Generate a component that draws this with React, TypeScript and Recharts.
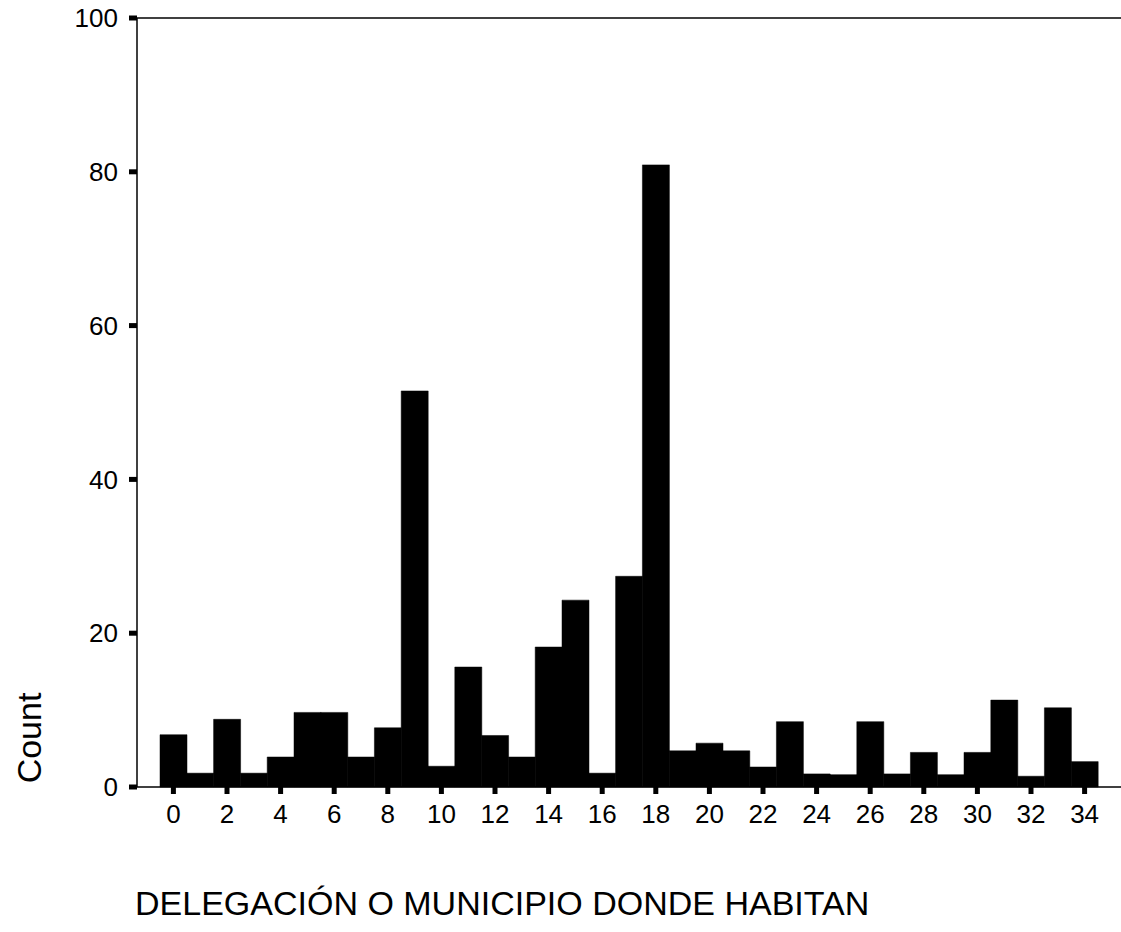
import { BarChart, Bar, XAxis, YAxis, ReferenceLine } from 'recharts';

// delegación / municipio codes and counts
const codes = [
  0, 1, 2, 3, 4, 5, 6, 7, 8, 9, 10, 11, 12, 13, 14, 15, 16, 17,
  18, 19, 20, 21, 22, 23, 24, 25, 26, 27, 28, 29, 30, 31, 32, 33, 34,
];
const counts = [
  6.8, 1.8, 8.8, 1.8, 3.9, 9.7, 9.7, 3.9, 7.7, 51.5, 2.7, 15.6, 6.7, 3.9, 18.2, 24.3, 1.8, 27.4,
  80.9, 4.7, 5.7, 4.7, 2.6, 8.5, 1.7, 1.6, 8.5, 1.7, 4.5, 1.6, 4.5, 11.3, 1.4, 10.3, 3.3,
];
const yTicks = [0, 20, 40, 60, 80, 100];

const xTitle = 'DELEGACIÓN O MUNICIPIO DONDE HABITAN';
const yTitle = 'Count';

const data = codes.map((code, i) => ({ code: String(code), count: counts[i] }));

const FONT = '"Liberation Sans", Arial, Helvetica, sans-serif';

export default function App() {
  return (
    <div style={{ position: 'absolute', left: 0, top: 0, background: '#fff' }}>
      <BarChart
        width={1121}
        height={932}
        data={data}
        margin={{ top: 18, right: 0, bottom: 115, left: 0 }}
        barCategoryGap={0}
        barGap={0}
        style={{ fontFamily: FONT }}
      >
        <XAxis
          dataKey="code"
          type="category"
          height={30}
          interval={1}
          padding={{ left: 23, right: 23 }}
          axisLine={{ stroke: '#000', strokeWidth: 1.5 }}
          tickLine={{ stroke: '#000', strokeWidth: 5 }}
          tickSize={7}
          tickMargin={11}
          tick={{ fill: '#000', fontSize: 26, fontFamily: FONT }}
          label={{
            content: () => (
              <text x={135} y={915} fill="#000" fontSize={34} fontFamily={FONT} textAnchor="start">
                {xTitle}
              </text>
            ),
          }}
        />
        <YAxis
          type="number"
          domain={[0, 100]}
          ticks={yTicks}
          width={137}
          axisLine={{ stroke: '#000', strokeWidth: 1.5 }}
          tickLine={{ stroke: '#000', strokeWidth: 5 }}
          tickSize={8}
          tickMargin={11}
          tick={{ fill: '#000', fontSize: 26, fontFamily: FONT }}
          label={{
            content: () => (
              <text
                x={41}
                y={738}
                fill="#000"
                fontSize={34}
                fontFamily={FONT}
                textAnchor="middle"
                transform="rotate(-90 41 738)"
              >
                {yTitle}
              </text>
            ),
          }}
        />
        <ReferenceLine y={100} stroke="#000" strokeWidth={1.5} />
        <Bar dataKey="count" fill="#000" stroke="#000" strokeWidth={0.5} isAnimationActive={false} />
      </BarChart>
    </div>
  );
}
